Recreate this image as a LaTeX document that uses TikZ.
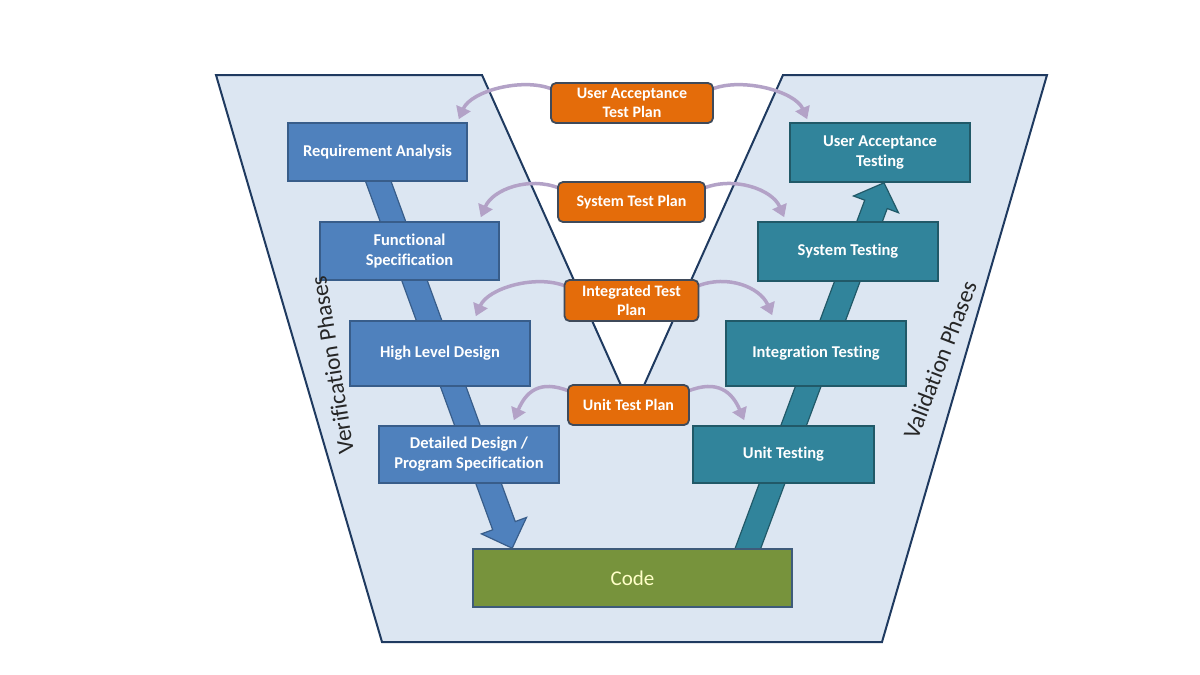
\documentclass[tikz,border=0pt]{standalone}
\usepackage{fontspec}
\setmainfont{Carlito}[Ligatures=NoCommon]
\usetikzlibrary{calc,arrows.meta}
\pgfdeclarelayer{bg}
\pgfsetlayers{bg,main}
\definecolor{regionFill}{HTML}{DCE6F2}
\definecolor{regionLine}{HTML}{1F3A60}
\definecolor{blueFill}{HTML}{4F81BD}
\definecolor{blueLine}{HTML}{385D8A}
\definecolor{tealFill}{HTML}{31849B}
\definecolor{tealLine}{HTML}{215968}
\definecolor{orangeFill}{HTML}{E46C0A}
\definecolor{orangeLine}{HTML}{3F4A5A}
\definecolor{codeFill}{HTML}{77933C}
\definecolor{codeLine}{HTML}{3E5B7A}
\definecolor{codeText}{HTML}{FFFFC8}
\definecolor{purp}{HTML}{B3A2C7}
\begin{document}
\begin{tikzpicture}[x=1pt,y=-1pt,
  box/.style={draw, line width=1.6pt, inner sep=1pt, align=center, text=white,
    font=\fontsize{16.5}{20}\selectfont\bfseries},
  vbox/.style={box, fill=blueFill, draw=blueLine},
  tbox/.style={box, fill=tealFill, draw=tealLine},
  planbox/.style={box, fill=orangeFill, draw=orangeLine, rounded corners=5pt, line width=1.8pt,
    font=\fontsize{16}{19.5}\selectfont\bfseries, text=white},
  codebox/.style={draw=codeLine, fill=codeFill, line width=1.6pt, text=codeText,
    font=\fontsize{21}{24}\selectfont},
  planarrow/.style={draw=purp, line width=3.5pt, -{Triangle[length=12pt,width=15pt]}},
  phase/.style={font=\fontsize{23.5}{26}\selectfont, text=black!85, inner sep=0pt},
  bandL/.style={fill=blueFill, draw=blueLine, line width=1.2pt, line join=miter},
  bandR/.style={fill=tealFill, draw=tealLine, line width=1.2pt, line join=miter},
]
\useasboundingbox (0,0) rectangle (1200,675);

% verification boxes
\node[vbox, minimum width=179pt, minimum height=58pt] (ra) at (377.5,152) {Requirement Analysis};
\node[vbox, minimum width=179pt, minimum height=58pt] (fs) at (409.5,251) {Functional\\Specification};
\node[vbox, minimum width=180pt, minimum height=65pt] (hld) at (440,353.5) {High Level Design};
\node[vbox, minimum width=180pt, minimum height=57pt] (dd) at (469,454.5) {Detailed Design /\\Program Specification};

% validation boxes
\node[tbox, minimum width=180pt, minimum height=59pt] (uat) at (880,152.5) {User Acceptance\\Testing};
\node[tbox, minimum width=180pt, minimum height=59pt] (st) at (848,251.5) {System Testing};
\node[tbox, minimum width=180pt, minimum height=65pt] (it) at (816,353.5) {Integration Testing};
\node[tbox, minimum width=181pt, minimum height=57pt] (ut) at (783.5,454.5) {Unit Testing};

% code
\node[codebox, minimum width=319pt, minimum height=58pt] (code) at (632.5,578) {Code};

% test plans
\node[planbox, minimum width=162pt, minimum height=40pt] (uatp) at (632,103) {User Acceptance\\Test Plan};
\node[planbox, minimum width=147pt, minimum height=40pt] (stp) at (631.5,202) {System Test Plan};
\node[planbox, minimum width=134pt, minimum height=41pt] (itp) at (631.5,300.5) {Integrated Test\\Plan};
\node[planbox, minimum width=121pt, minimum height=40pt] (utp) at (628.5,405) {Unit Test Plan};

% phase labels
\node[phase, rotate=99] (vp) at (332,365) {Verification Phases};
\node[phase, rotate=69] (valp) at (940,360) {Validation Phases};

\begin{pgfonlayer}{bg}
  % region
  \draw[fill=regionFill, draw=regionLine, line width=2pt, line join=miter]
    (216,75) -- (482,75) -- (632.5,411) -- (783,75) -- (1047,75) -- (882,642) -- (382,642) -- cycle;

  % left big arrow
  \coordinate (ls) at ($(ra.center)+(-7,8)$);
  \coordinate (lt) at ($(code.north west)+(40,0)$);
  \coordinate (ln) at ($(lt)!24pt!(ls)$);
  \draw[bandL] ($(ls)!12pt!90:(lt)$) -- ($(ln)!12pt!-90:(ls)$) -- ($(ln)!24pt!-90:(ls)$) -- (lt)
     -- ($(ln)!24pt!90:(ls)$) -- ($(ln)!12pt!90:(ls)$) -- ($(ls)!12pt!-90:(lt)$) -- cycle;

  % right big arrow
  \coordinate (rs) at ($(code.center)+(105.5,-3)$);
  \coordinate (rt) at ($(uat.south)+(4,0)$);
  \coordinate (rn) at ($(rt)!23pt!(rs)$);
  \draw[bandR] ($(rs)!12pt!90:(rt)$) -- ($(rn)!12pt!-90:(rs)$) -- ($(rn)!24pt!-90:(rs)$) -- (rt)
     -- ($(rn)!24pt!90:(rs)$) -- ($(rn)!12pt!90:(rs)$) -- ($(rs)!12pt!-90:(rt)$) -- cycle;

  % plan arrows
  \draw[planarrow] ($(uatp.north west)+(2,7)$) .. controls +(-30,-12) and +(12,-28) .. ($(ra.north east)+(-9,-3)$);
  \draw[planarrow] ($(uatp.north east)+(-2,7)$) .. controls +(30,-12) and +(-12,-28) .. ($(uat.north west)+(18,-3)$);
  \draw[planarrow] ($(stp.north west)+(2,7)$) .. controls +(-30,-12) and +(12,-28) .. ($(fs.north east)+(-19,-4)$);
  \draw[planarrow] ($(stp.north east)+(-2,7)$) .. controls +(30,-12) and +(-12,-28) .. ($(st.north west)+(27,-4)$);
  \draw[planarrow] ($(itp.north west)+(2,7)$) .. controls +(-30,-12) and +(12,-28) .. ($(hld.north east)+(-55,-4)$);
  \draw[planarrow] ($(itp.north east)+(-2,7)$) .. controls +(30,-12) and +(-12,-28) .. ($(it.north west)+(47,-5)$);
  \draw[planarrow] ($(utp.north west)+(2,7)$) .. controls +(-30,-12) and +(12,-28) .. ($(dd.north east)+(-46,-5)$);
  \draw[planarrow] ($(utp.north east)+(-2,7)$) .. controls +(30,-12) and +(-12,-28) .. ($(ut.north west)+(52,-5)$);
\end{pgfonlayer}
\end{tikzpicture}
\end{document}
